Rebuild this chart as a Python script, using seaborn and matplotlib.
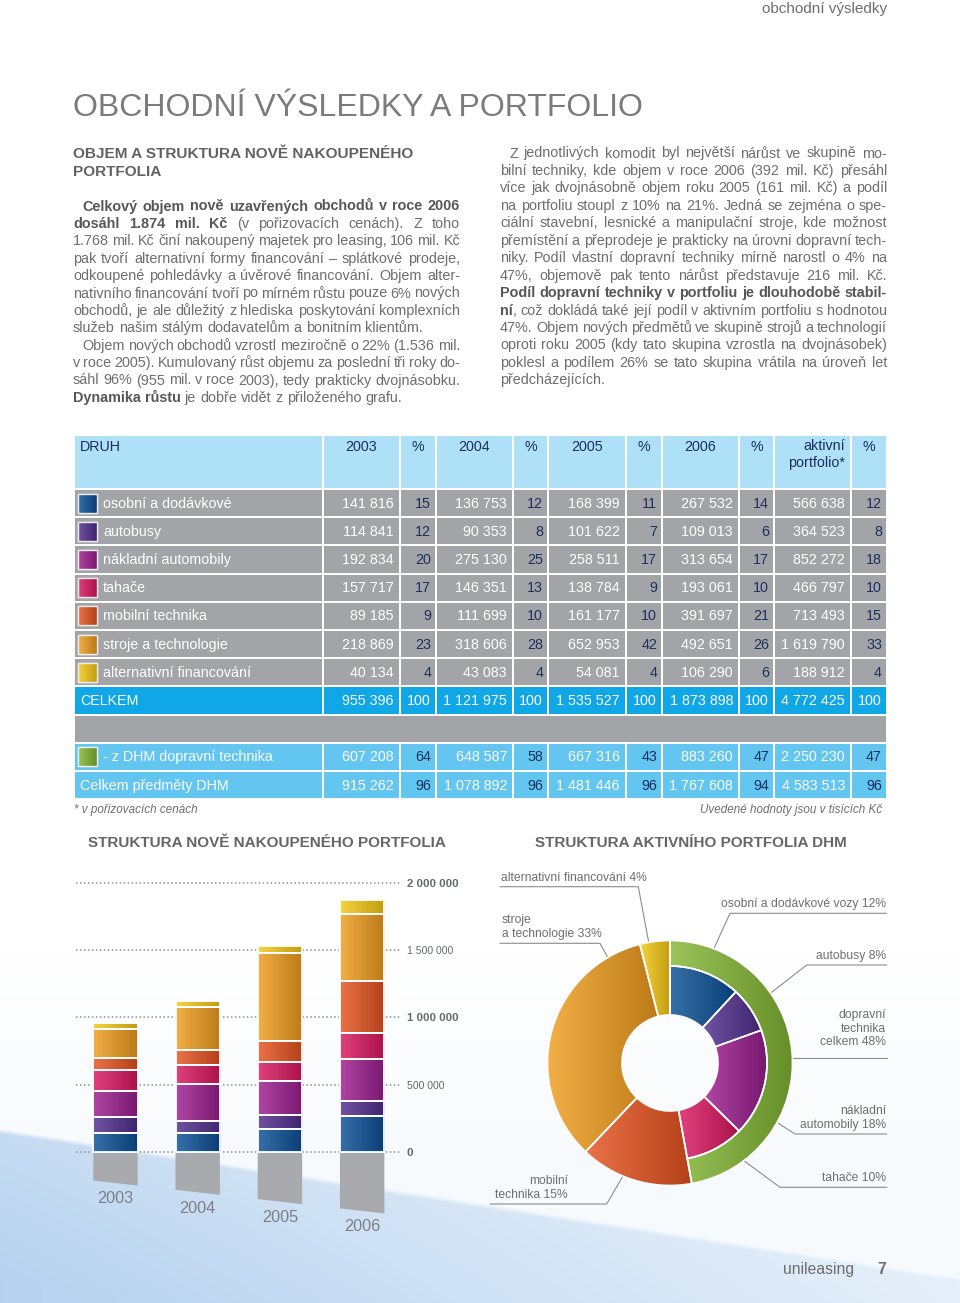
import matplotlib
matplotlib.use('Agg')
import numpy as np
import pandas as pd
import matplotlib.pyplot as plt
import matplotlib.colors as mcolors
from matplotlib import font_manager
from matplotlib.patches import Rectangle, Polygon, Wedge
import seaborn as sns

# -----------------------------
# Data (thousands CZK)
# -----------------------------
categories = ["osobní a dodávkové", "autobusy", "nákladní automobily", "tahače",
              "mobilní technika", "stroje a technologie", "alternativní financování"]
years = ["2003", "2004", "2005", "2006"]

v2003 = [141816, 114841, 192834, 157717, 89185, 218869, 40134]
p2003 = [15, 12, 20, 17, 9, 23, 4]
v2004 = [136753, 90353, 275130, 146351, 111699, 318606, 43083]
p2004 = [12, 8, 25, 13, 10, 28, 4]
v2005 = [168399, 101622, 258511, 138784, 161177, 652953, 54081]
p2005 = [11, 7, 17, 9, 10, 42, 4]
v2006 = [267532, 109013, 313654, 193061, 391697, 492651, 106290]
p2006 = [14, 6, 17, 10, 21, 26, 6]
v_active = [566638, 364523, 852272, 466797, 713493, 1619790, 188912]
p_active = [12, 8, 18, 10, 15, 33, 4]

total_values = [955396, 1121975, 1535527, 1873898, 4772425]
dhm_transport = [607208, 648587, 667316, 883260, 2250230]
dhm_transport_pct = [64, 58, 43, 47, 47]
dhm_total = [915262, 1078892, 1481446, 1767608, 4583513]
dhm_total_pct = [96, 96, 96, 94, 96]

table_header = ["2003", "%", "2004", "%", "2005", "%", "2006", "%", "aktivní\nportfolio*", "%"]
bar_ticks = [0, 500000, 1000000, 1500000, 2000000]

donut_labels = ["osobní a dodávkové vozy 12%", "autobusy 8%", "nákladní\nautomobily 18%",
                "tahače 10%", "mobilní\ntechnika 15%", "stroje\na technologie 33%",
                "alternativní financování 4%"]
transport_label = "dopravní\ntechnika\ncelkem 48%"

left_lines = [
    "**Celkový objem nově uzavřených obchodů v roce 2006**",
    "**dosáhl 1.874 mil. Kč** (v pořizovacích cenách). Z toho",
    "1.768 mil. Kč činí nakoupený majetek pro leasing, 106 mil. Kč",
    "pak tvoří alternativní formy financování – splátkové prodeje,",
    "odkoupené pohledávky a úvěrové financování. Objem alter-",
    "nativního financování tvoří po mírném růstu pouze 6% nových",
    "obchodů, je ale důležitý z hlediska poskytování komplexních",
    "služeb našim stálým dodavatelům a bonitním klientům.",
    "Objem nových obchodů vzrostl meziročně o 22% (1.536 mil.",
    "v roce 2005). Kumulovaný růst objemu za poslední tři roky do-",
    "sáhl 96% (955 mil. v roce 2003), tedy prakticky dvojnásobku.",
    "**Dynamika růstu** je dobře vidět z přiloženého grafu.",
]
right_lines = [
    "Z jednotlivých komodit byl největší nárůst ve skupině mo-",
    "bilní techniky, kde objem v roce 2006 (392 mil. Kč) přesáhl",
    "více jak dvojnásobně objem roku 2005 (161 mil. Kč) a podíl",
    "na portfoliu stoupl z 10% na 21%. Jedná se zejména o spe-",
    "ciální stavební, lesnické a manipulační stroje, kde možnost",
    "přemístění a přeprodeje je prakticky na úrovni dopravní tech-",
    "niky. Podíl vlastní dopravní techniky mírně narostl o 4% na",
    "47%, objemově pak tento nárůst představuje 216 mil. Kč.",
    "**Podíl dopravní techniky v portfoliu je dlouhodobě stabil-**",
    "**ní**, což dokládá také její podíl v aktivním portfoliu s hodnotou",
    "47%. Objem nových předmětů ve skupině strojů a technologií",
    "oproti roku 2005 (kdy tato skupina vzrostla na dvojnásobek)",
    "poklesl a podílem 26% se tato skupina vrátila na úroveň let",
    "předcházejících.",
]

# -----------------------------
# Style
# -----------------------------
cat_colors = ['#0b5096', '#512e8e', '#9c1e8f', '#da1760', '#e7531f', '#f09d1e', '#f6c915']
green = '#84b735'
grey_shadow = '#a8aaad'
txt_grey = '#6e6e6e'
txt_dark = '#575757'
navy = '#1c2f5e'

sns.set_theme(style="white")
plt.rcParams['font.family'] = ['Liberation Sans', 'DejaVu Sans']
installed = {f.name for f in font_manager.fontManager.ttflist}
narrow = 'Liberation Sans Narrow' if 'Liberation Sans Narrow' in installed else 'Liberation Sans'

W, H = 960, 1303
fig = plt.figure(figsize=(W / 100, H / 100), dpi=100)
page = fig.add_axes([0, 0, 1, 1])
page.set_xlim(0, W)
page.set_ylim(H, 0)
page.axis('off')
rend = fig.canvas.get_renderer()


def lighter(c, k=0.18):
    b = np.array(mcolors.to_rgb(c))
    return b + (1 - b) * k


def darker(c, k=0.78):
    return np.array(mcolors.to_rgb(c)) * k


def grad_fill(ax, patch, color, extent, z):
    t = np.linspace(0, 1, 80)[:, None]
    row = lighter(color) * (1 - t) + darker(color) * t
    im = ax.imshow(row[None, :, :], extent=extent, aspect='auto',
                   interpolation='bilinear', zorder=z)
    im.set_clip_path(patch)


def text_w(s, **kw):
    t = page.text(0, 0, s, **kw)
    w = t.get_window_extent(rend).width
    t.remove()
    return w


def fit(s, width, size0=20, **kw):
    return size0 * width / text_w(s, fontsize=size0, **kw)


# -----------------------------
# Page background
# -----------------------------
yy, xx = np.mgrid[0:H, 0:W].astype(float)
edge = 1128 + 0.155 * xx
inside = np.clip((yy - edge) / 5, 0, 1)
depth = np.clip((yy - edge) / 150, 0, 1)
alpha = inside * (0.40 + 0.12 * depth) * (1 - 0.55 * xx / W)
alpha += (1 - inside) * 0.05 * np.clip((yy - 950) / 200, 0, 1)
blue = np.array([0.45, 0.66, 0.88])
bg = 1 - alpha[..., None] * (1 - blue)
page.imshow(bg, extent=(0, W, H, 0), aspect='auto', zorder=0, interpolation='bilinear')

# -----------------------------
# Header texts
# -----------------------------
page.text(887, 9, "obchodní výsledky", ha='right', va='center', color=txt_grey,
          fontsize=fit("obchodní výsledky", 125, family=narrow), family=narrow)
title = "OBCHODNÍ VÝSLEDKY A PORTFOLIO"
page.text(73, 108, title, ha='left', va='center', color='#7b7b7b',
          fontsize=min(27, fit(title, 570, family=narrow)), family=narrow)

h1 = "OBJEM A STRUKTURA NOVĚ NAKOUPENÉHO"
hs = fit(h1, 342, fontweight='bold')
page.text(73, 158, h1, fontsize=hs, fontweight='bold', color='#626262', va='baseline')
page.text(73, 176, "PORTFOLIA", fontsize=hs, fontweight='bold', color='#626262', va='baseline')

# -----------------------------
# Justified body text
# -----------------------------
def split_words(line):
    words, new = [], True
    for i, seg in enumerate(line.split('**')):
        if not seg:
            continue
        bold = i % 2 == 1
        for j, p in enumerate(seg.split(' ')):
            if j > 0:
                new = True
            if not p:
                continue
            if new or not words:
                words.append([(p, bold)])
            else:
                words[-1].append((p, bold))
            new = False
    return words


def measure_line(words, size):
    return [[text_w(p, fontsize=size, fontweight='bold' if b else 'normal') for p, b in w]
            for w in words]


# font size: largest that keeps every justified line with a sensible word gap
ref_size = 10.0
ref_space = text_w("a a", fontsize=ref_size) - 2 * text_w("a", fontsize=ref_size)
ratios = []
for lines, indents, lasts in ((left_lines, {0, 8}, {7, 11}), (right_lines, {0}, {13})):
    for k, line in enumerate(lines):
        if k in lasts:
            continue
        words = split_words(line)
        nat = sum(sum(ws) for ws in measure_line(words, ref_size)) + 0.75 * ref_space * (len(words) - 1)
        ratios.append((387 - (9 if k in indents else 0)) / nat)
body_size = min(10.4, ref_size * min(ratios))
space_w = ref_space * body_size / ref_size


def draw_block(lines, x0, x1, y0, step, indents, lasts):
    for k, line in enumerate(lines):
        xs = x0 + (9 if k in indents else 0)
        y = y0 + k * step
        words = split_words(line)
        widths = measure_line(words, body_size)
        total = sum(sum(ws) for ws in widths)
        if k in lasts or len(words) < 2:
            gap = space_w
        else:
            gap = (x1 - xs - total) / (len(words) - 1)
        x = xs
        for w, ws in zip(words, widths):
            for (p, b), pw in zip(w, ws):
                page.text(x, y, p, fontsize=body_size, va='baseline', ha='left',
                          fontweight='bold' if b else 'normal',
                          color=txt_dark if b else txt_grey)
                x += pw
            x += gap


draw_block(left_lines, 73, 460, 210.5, 17.4, {0, 8}, {7, 11})
draw_block(right_lines, 500, 887, 157.5, 17.45, {0}, {13})

# -----------------------------
# Table
# -----------------------------
col_x = [74, 323, 400, 436, 513, 548, 626, 662, 739, 774, 851, 887]
head_top, head_bot, row_h = 435, 489, 28.2
c_head, c_grey, c_total, c_dhm = '#aee1f8', '#a3a4a7', '#0fa7e5', '#62c6f0'


def fmt(v):
    return f"{v:,}".replace(",", " ")


def cell(x0, x1, y0, y1, color):
    page.add_patch(Rectangle((x0 + 0.8, y0 + 1), x1 - x0 - 1.6, y1 - y0 - 2,
                             facecolor=color, edgecolor='none', zorder=2))


tsize = 10.3
for c in range(len(col_x) - 1):
    cell(col_x[c], col_x[c + 1], head_top, head_bot, c_head)
page.text(80, 447, "DRUH", fontsize=tsize, color=navy, va='center', zorder=3)
for c, lab in enumerate(table_header):
    xa, xb = col_x[c + 1], col_x[c + 2]
    if '\n' in lab:
        page.text(xb - 6, 439, lab, fontsize=tsize, color=navy, ha='right', va='top',
                  multialignment='right', linespacing=1.3, zorder=3)
    else:
        page.text((xa + xb) / 2, 447, lab, fontsize=tsize, color=navy, ha='center',
                  va='center', zorder=3)

value_cols = [v2003, v2004, v2005, v2006, v_active]
pct_cols = [p2003, p2004, p2005, p2006, p_active]
rows = []
for i, cat in enumerate(categories):
    rows.append((cat, cat_colors[i], [c[i] for c in value_cols], [c[i] for c in pct_cols], c_grey, navy))
rows.append(("CELKEM", None, total_values, [100] * 5, c_total, 'white'))
rows.append(None)
rows.append(("- z DHM dopravní technika", green, dhm_transport, dhm_transport_pct, c_dhm, navy))
rows.append(("Celkem předměty DHM", None, dhm_total, dhm_total_pct, c_dhm, navy))

for r, row in enumerate(rows):
    y0 = head_bot + r * row_h
    y1 = y0 + row_h
    yc = (y0 + y1) / 2
    if row is None:
        cell(col_x[0], col_x[-1], y0, y1, c_grey)
        continue
    label, sw, vals, pcts, fill, pcol = row
    for c in range(len(col_x) - 1):
        cell(col_x[c], col_x[c + 1], y0, y1, fill)
    if sw is not None:
        sq = Rectangle((78, yc - 9.5), 19, 19, facecolor=sw, edgecolor='#e8e8e8', lw=1, zorder=3)
        page.add_patch(sq)
        grad_fill(page, sq, sw, (78, 97, yc + 9.5, yc - 9.5), 3.5)
        page.add_patch(Rectangle((78, yc - 9.5), 19, 19, fill=False, edgecolor='#ececec', lw=1, zorder=3.6))
        lx = 103
    else:
        lx = 80
    page.text(lx, yc + 0.5, label, fontsize=tsize, color='white', va='center', zorder=4)
    for k in range(5):
        page.text(col_x[2 * k + 2] - 6, yc + 0.5, fmt(vals[k]), fontsize=tsize, color='white',
                  ha='right', va='center', zorder=4)
        page.text(col_x[2 * k + 3] - 5, yc + 0.5, str(pcts[k]), fontsize=tsize, color=pcol,
                  ha='right', va='center', zorder=4)

page.text(74, 810, "* v pořizovacích cenách", fontsize=8.4, style='italic', color=txt_grey, va='center')
page.text(882, 810, "Uvedené hodnoty jsou v tisících Kč", fontsize=8.4, style='italic',
          color=txt_grey, va='center', ha='right')

# -----------------------------
# Section titles
# -----------------------------
s1 = "STRUKTURA NOVĚ NAKOUPENÉHO PORTFOLIA"
s2 = "STRUKTURA AKTIVNÍHO PORTFOLIA DHM"
ss = fit(s1, 357, fontweight='bold')
page.text(88, 843, s1, fontsize=ss, fontweight='bold', color='#666666', va='center')
page.text(535, 843, s2, fontsize=ss, fontweight='bold', color='#666666', va='center')

# -----------------------------
# Stacked bars
# -----------------------------
df = pd.DataFrame({
    "rok": np.repeat(years, len(categories)),
    "druh": categories * len(years),
    "hodnota": np.concatenate([v2003, v2004, v2005, v2006]),
})
df["spodek"] = df.groupby("rok")["hodnota"].cumsum() - df["hodnota"]

y_lo, y_hi = -640000, 2100000
px_per = 268.4 / 2000000
top_px = 883.3 - (y_hi - 2000000) * px_per
bot_px = 1151.7 - y_lo * px_per
ax = fig.add_axes([76 / W, 1 - bot_px / H, 324 / W, (bot_px - top_px) / H])
ax.patch.set_alpha(0)

for cat, col in zip(categories, cat_colors):
    sub = df[df["druh"] == cat]
    sns.barplot(data=sub, x="rok", y="hodnota", order=years, bottom=sub["spodek"].to_numpy(),
                color=col, saturation=1, width=0.54, linewidth=0, errorbar=None, ax=ax)

bars = [p for p in ax.patches if isinstance(p, Rectangle)]
cols_by_bar = np.repeat(cat_colors, len(years))
for p, col in zip(bars, cols_by_bar):
    x0, y0 = p.get_x(), p.get_y()
    w, h = p.get_width(), p.get_height()
    p.set_zorder(2)
    grad_fill(ax, p, col, (x0, x0 + w, y0, y0 + h), 2.5)
    ax.add_patch(Rectangle((x0, y0), w, h, fill=False, edgecolor='white', lw=1.3, zorder=3))


def shadow(x):
    return -215000 - 69200 * (x + 0.27)


for i, p in enumerate(bars[:len(years)]):
    x0, x1 = p.get_x(), p.get_x() + p.get_width()
    ax.add_patch(Polygon([(x0, -9000), (x1, -9000), (x1, shadow(x1)), (x0, shadow(x0))],
                         closed=True, facecolor=grey_shadow, edgecolor='none', zorder=2))
    xc = (x0 + x1) / 2
    ax.text(xc, shadow(xc) - 118000, years[i], ha='center', va='center',
            fontsize=11.7, color='#7c8086')

ax.set_xlim(-0.48, 3.46)
ax.set_ylim(y_lo, y_hi)
ax.set_xticks([])
ax.set_xlabel("")
ax.set_ylabel("")
ax.yaxis.tick_right()
ax.set_yticks(bar_ticks, [fmt(t) for t in bar_ticks])
ax.tick_params(axis='y', length=0, pad=5, labelcolor='#666a6e')
for t, lab in zip(bar_ticks, ax.get_yticklabels()):
    if t % 1000000 == 0:
        lab.set_fontweight('bold')
        lab.set_fontsize(8.2)
    else:
        lab.set_fontsize(7.6)
ax.yaxis.grid(True, color='#8f8f8f', linestyle=(0, (1, 1.6)), linewidth=1.1)
ax.xaxis.grid(False)
ax.set_axisbelow(True)
for s in ax.spines.values():
    s.set_visible(False)

# -----------------------------
# Donut
# -----------------------------
cx, cy, R_out, R_mid, R_in = 670, 1063, 122.5, 97, 48
axd = fig.add_axes([(cx - 130) / W, 1 - (cy + 130) / H, 260 / W, 260 / H])
axd.patch.set_alpha(0)

transport_sum = sum(v_active[:4])
outer_vals = [transport_sum] + v_active[4:]
outer_cols = [green] + cat_colors[4:]
inner_vals = v_active[:4] + [sum(v_active[4:])]

full, _ = axd.pie(outer_vals, colors=outer_cols, radius=R_out, startangle=90, counterclock=False,
                  wedgeprops=dict(width=R_out - R_in, linewidth=0))
ring, _ = axd.pie(outer_vals, colors=outer_cols, radius=R_out, startangle=90, counterclock=False,
                  wedgeprops=dict(width=R_out - R_mid, linewidth=0))
inner, _ = axd.pie(inner_vals, colors=cat_colors[:4] + ['white'], radius=R_mid, startangle=90,
                   counterclock=False, wedgeprops=dict(width=R_mid - R_in, linewidth=0))

full[0].set_visible(False)
for wdg in ring[1:]:
    wdg.set_visible(False)
inner[-1].set_visible(False)
shown = [(w, c) for w, c in zip(full[1:], outer_cols[1:])] + [(ring[0], green)] + \
        [(w, c) for w, c in zip(inner[:4], cat_colors[:4])]
for wdg, col in shown:
    wdg.set_zorder(2)
    e = wdg.get_path().get_extents()
    grad_fill(axd, wdg, col, (e.x0, e.x1, e.y0, e.y1), 2.5)
    axd.add_patch(Wedge(wdg.center, wdg.r, wdg.theta1, wdg.theta2, width=wdg.width,
                        fill=False, edgecolor='white', lw=1.2, zorder=3))
axd.set_xlim(-130, 130)
axd.set_ylim(-130, 130)
axd.set_aspect('equal')
axd.axis('off')

# leader lines and labels
tot = sum(v_active)
cum = np.concatenate([[0], np.cumsum(v_active)]) / tot


def anchor(a, b, frac, r):
    th = np.deg2rad(90 - 360 * (cum[a] + frac * (cum[b] - cum[a])))
    return cx + r * np.cos(th), cy - r * np.sin(th)


lab_kw = dict(fontsize=8.7, color='#6f6f6f', linespacing=1.2)
line_kw = dict(color='#8c8c8c', lw=0.8, zorder=5)
# (wedge index, frac, radius, elbow x, elbow y, far x, text x, ha)
leaders = [
    (0, 0.42, 66, 730, 913.3, 886.7, 886, 'right'),
    (1, 0.56, 63, 806.7, 965, 886.7, 886, 'right'),
    (2, 0.71, 65, 795, 1134, 886.7, 886, 'right'),
    (3, 0.59, 72, 780, 1187.3, 886.7, 886, 'right'),
    (4, 0.57, 95, 606.7, 1204, 490, 568, 'right'),
    (5, 0.86, 81, 600, 943.3, 500, 502, 'left'),
    (6, 0.35, 56, 638.3, 886.7, 500, 501, 'left'),
]
for (i, fr, r, ex, ey, fx, tx, ha), lab in zip(leaders, donut_labels):
    ax_, ay_ = anchor(i, i + 1, fr, r)
    page.plot([ax_, ex, fx], [ay_, ey, ey], **line_kw)
    page.text(tx, ey - 3, lab, ha=ha, va='bottom', multialignment=ha, **lab_kw)

tx_, ty_ = anchor(0, 4, 0.516, 109)
page.plot([tx_, 886.7], [ty_, ty_], **line_kw)
page.text(886, ty_ - 10, transport_label, ha='right', va='bottom', multialignment='right', **lab_kw)

# -----------------------------
# Footer
# -----------------------------
page.text(783, 1274, "unileasing", fontsize=11.3, color='#6d6d6d', va='baseline')
page.text(882, 1274, "7", fontsize=11.3, color='#6d6d6d', va='baseline', ha='center', fontweight='bold')

fig.savefig("out.png", dpi=100)
plt.close(fig)
